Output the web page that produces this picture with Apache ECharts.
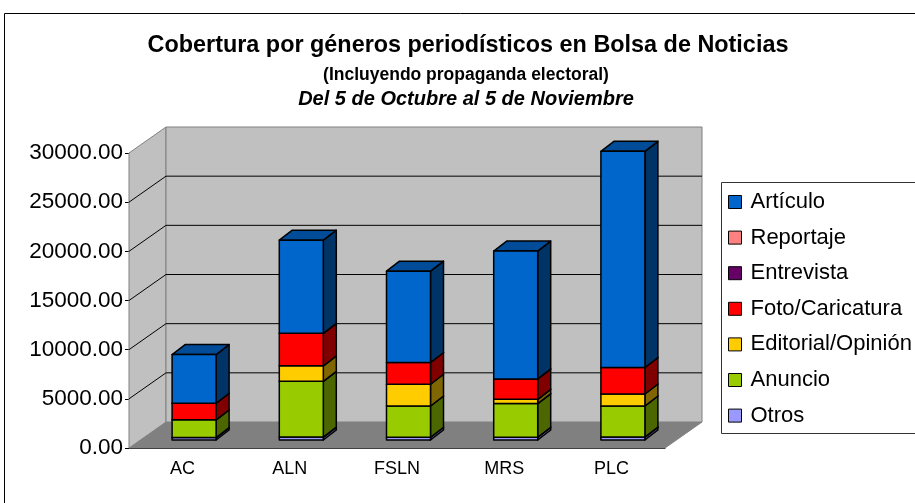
<!DOCTYPE html>
<html>
<head>
<meta charset="utf-8">
<script src="https://cdn.jsdelivr.net/npm/echarts@6/dist/echarts.min.js"></script>
<style>
  html, body { margin: 0; padding: 0; background: #fff; }
  #chart { width: 915px; height: 503px; }
</style>
</head>
<body>
<div id="chart"></div>
<script>
const categories = ['AC', 'ALN', 'FSLN', 'MRS', 'PLC'];
const otros = [250, 300, 280, 280, 300];
const anuncio = [1800, 5670, 3180, 3420, 3160];
const editorial = [0, 1570, 2210, 440, 1220];
const foto = [1690, 3310, 2210, 2070, 2690];
const entrevista = [0, 0, 0, 0, 0];
const reportaje = [0, 0, 0, 0, 0];
const articulo = [4950, 9470, 9290, 13000, 21990];
const yTicks = [0, 5000, 10000, 15000, 20000, 25000, 30000];

// bottom of the stack first
const stack = [
  { name: 'Otros', values: otros, front: '#9999FF', side: '#4C4C80', top: '#7A7ACC' },
  { name: 'Anuncio', values: anuncio, front: '#99CC00', side: '#4C6600', top: '#7AA300' },
  { name: 'Editorial/Opinión', values: editorial, front: '#FFCC00', side: '#806600', top: '#CCA300' },
  { name: 'Foto/Caricatura', values: foto, front: '#FF0000', side: '#800000', top: '#CC0000' },
  { name: 'Entrevista', values: entrevista, front: '#660066', side: '#330033', top: '#520052' },
  { name: 'Reportaje', values: reportaje, front: '#FF8080', side: '#804040', top: '#CC6666' },
  { name: 'Artículo', values: articulo, front: '#0066CC', side: '#003366', top: '#004C99' }
];
const legendOrder = ['Artículo', 'Reportaje', 'Entrevista', 'Foto/Caricatura', 'Editorial/Opinión', 'Anuncio', 'Otros'];

// fake 3d: back wall offset and bar depth
const WALL_DX = 37, WALL_DY = -26;
const BAR_DX = 11.5, BAR_DY = -8;
const SIDE_DX = 13, SIDE_DY = -10;
const BAR_W = 44;

function renderFrame(params, api) {
  const band = api.size([1, 0])[0];
  const x0 = api.coord([0, 0])[0] - band / 2;
  const x1 = api.coord([categories.length - 1, 0])[0] + band / 2;
  const yb = api.coord([0, yTicks[0]])[1];
  const yt = api.coord([0, yTicks[yTicks.length - 1]])[1];
  const children = [
    { type: 'polygon', shape: { points: [[x0, yb], [x1, yb], [x1 + WALL_DX, yb + WALL_DY], [x0 + WALL_DX, yb + WALL_DY]] },
      style: { fill: '#808080', stroke: '#808080' } },
    { type: 'polygon', shape: { points: [[x0, yt], [x0 + WALL_DX, yt + WALL_DY], [x0 + WALL_DX, yb + WALL_DY], [x0, yb]] },
      style: { fill: '#C0C0C0', stroke: '#808080' } },
    { type: 'rect', shape: { x: x0 + WALL_DX, y: yt + WALL_DY, width: x1 - x0, height: yb - yt },
      style: { fill: '#C0C0C0', stroke: '#808080' } }
  ];
  yTicks.slice(1, -1).forEach(function (v) {
    const y = api.coord([0, v])[1];
    children.push({ type: 'polyline', shape: { points: [[x0, y], [x0 + WALL_DX, y + WALL_DY], [x1 + WALL_DX, y + WALL_DY]] },
      style: { stroke: '#000', lineWidth: 1, fill: null } });
  });
  return { type: 'group', children: children };
}

function barRenderer(s) {
  return function (params, api) {
    const lo = api.value(1), hi = api.value(2);
    if (hi <= lo) return;
    const p0 = api.coord([api.value(0), lo]);
    const p1 = api.coord([api.value(0), hi]);
    const cx = p0[0] + BAR_DX;
    const yb = p0[1] + BAR_DY, yt = p1[1] + BAR_DY;
    const l = cx - BAR_W / 2, r = cx + BAR_W / 2;
    const line = { stroke: '#000', lineWidth: 1.5, lineJoin: 'round' };
    return {
      type: 'group',
      children: [
        { type: 'polygon', shape: { points: [[r, yt], [r + SIDE_DX, yt + SIDE_DY], [r + SIDE_DX, yb + SIDE_DY], [r, yb]] },
          style: Object.assign({ fill: s.side }, line) },
        { type: 'polygon', shape: { points: [[l, yt], [l + SIDE_DX, yt + SIDE_DY], [r + SIDE_DX, yt + SIDE_DY], [r, yt]] },
          style: Object.assign({ fill: s.top }, line) },
        { type: 'rect', shape: { x: l, y: yt, width: BAR_W, height: yb - yt },
          style: Object.assign({ fill: s.front }, line) }
      ]
    };
  };
}

const base = categories.map(function () { return 0; });
const barSeries = stack.map(function (s) {
  const data = s.values.map(function (v, i) {
    const item = [i, base[i], base[i] + v];
    base[i] += v;
    return item;
  });
  return {
    name: s.name,
    type: 'custom',
    renderItem: barRenderer(s),
    itemStyle: { color: s.front },
    encode: { x: 0, y: [1, 2] },
    z: 2,
    data: data
  };
});

const chart = echarts.init(document.getElementById('chart'));
chart.setOption({
  animation: false,
  textStyle: { fontFamily: 'Liberation Sans, Arial, sans-serif' },
  graphic: [
    { type: 'rect', shape: { x: 4.5, y: 13.5, width: 960, height: 600 }, style: { fill: null, stroke: '#000', lineWidth: 1 }, z: 0 },
    { type: 'rect', shape: { x: 721.5, y: 182.5, width: 240, height: 251 }, style: { fill: '#fff', stroke: '#333', lineWidth: 1 }, z: 1 },
    { type: 'text', x: 468, y: 46, style: { text: 'Cobertura por géneros periodísticos en Bolsa de Noticias', font: 'bold 23.4px "Liberation Sans", Arial', fill: '#000', textAlign: 'center', textVerticalAlign: 'middle' } },
    { type: 'text', x: 466, y: 75, style: { text: '(Incluyendo propaganda electoral)', font: 'bold 17.5px "Liberation Sans", Arial', fill: '#000', textAlign: 'center', textVerticalAlign: 'middle' } },
    { type: 'text', x: 466, y: 99, style: { text: 'Del 5 de Octubre al 5 de Noviembre', font: 'italic bold 20px "Liberation Sans", Arial', fill: '#000', textAlign: 'center', textVerticalAlign: 'middle' } }
  ],
  legend: {
    data: legendOrder,
    orient: 'vertical',
    left: 728,
    top: 191,
    padding: 0,
    icon: 'rect',
    itemWidth: 13,
    itemHeight: 13,
    itemGap: 13.6,
    itemStyle: { borderColor: '#000', borderWidth: 1 },
    textStyle: { fontSize: 22, color: '#000', padding: [0, 0, 0, 4] },
    z: 5
  },
  grid: { left: 129, right: 250, top: 153, bottom: 55 },
  xAxis: {
    type: 'category',
    data: categories,
    axisLine: { lineStyle: { color: '#000', width: 1 } },
    axisTick: { length: 5, lineStyle: { color: '#000' } },
    axisLabel: { fontSize: 18, color: '#000', margin: 12 }
  },
  yAxis: {
    type: 'value',
    min: yTicks[0],
    max: yTicks[yTicks.length - 1],
    interval: 5000,
    axisLine: { show: true, lineStyle: { color: '#000', width: 1 } },
    axisTick: { show: true, length: 4, lineStyle: { color: '#000' } },
    splitLine: { show: false },
    axisLabel: { fontSize: 22.5, color: '#000', margin: 6, formatter: function (v) { return v.toFixed(2); } }
  },
  series: [{
    type: 'custom',
    renderItem: renderFrame,
    encode: { x: 0, y: 1 },
    silent: true,
    z: 1,
    data: [[0, 0]]
  }].concat(barSeries)
});
</script>
</body>
</html>
